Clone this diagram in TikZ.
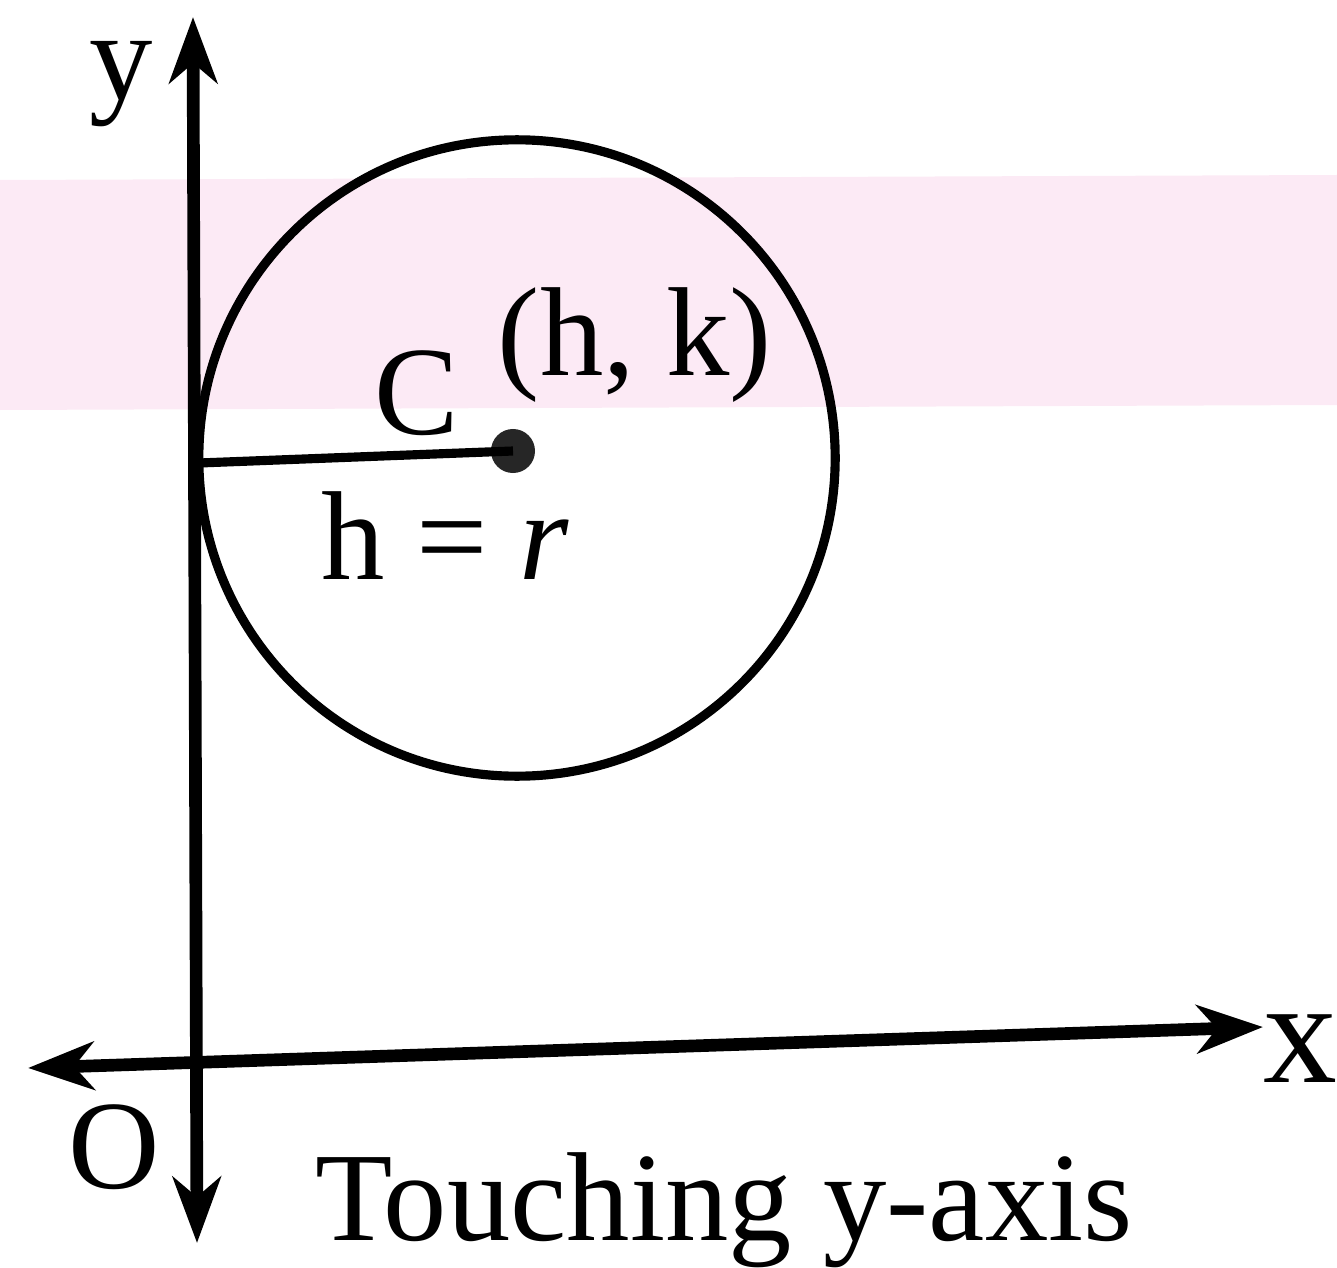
\documentclass[tikz,border=0pt]{standalone}
\usepackage{fontspec}
\setmainfont{Liberation Serif}
\usetikzlibrary{arrows.meta}
\definecolor{bandpink}{RGB}{252,234,245}
\tikzset{
  axisline/.style={line width=3.6pt, -{Stealth[length=6.6mm, width=4.8mm, inset=2mm]}},
  axislinetwo/.style={line width=3.6pt, {Stealth[length=6.6mm, width=4.8mm, inset=2mm]}-{Stealth[length=6.6mm, width=4.8mm, inset=2mm]}},
  ring/.style={draw, circle, line width=2.6pt, inner sep=0pt, minimum size=6.36cm},
  centredot/.style={circle, fill=black!85, inner sep=0pt, minimum size=4.4mm},
  lbl/.style={inner sep=0pt, font=\fontsize{36}{40}\selectfont},
}
\begin{document}
\begin{tikzpicture}[x=0.01cm, y=-0.01cm]
\useasboundingbox (0,0) rectangle (1337,1267);
% faint pink highlighter band of the scan
\fill[bandpink] (0,180) -- (1337,175) -- (1337,405) -- (0,410) -- cycle;
% axes
\coordinate (ytop) at (193,17);
\coordinate (ybot) at (197,1243);
\coordinate (xleft) at (28,1068);
\coordinate (xright) at (1263,1027);
\draw[axislinetwo] (ybot) -- (ytop);
\draw[axislinetwo] (xleft) -- (xright);
% circle
\node[ring] (circ) at (517,458) {};
\node[centredot] (cen) at (513,451) {};
\coordinate (touch) at (199,463);
\draw[line width=2.6pt] (touch) -- (cen.center);
% labels
\node[lbl, anchor=base] (ylab) at (121,100) {y};
\node[lbl, anchor=base, font=\fontsize{42}{46}\selectfont] (xlab) at (1300,1082) {x};
\node[lbl, anchor=base] (olab) at (114,1188) {O};
\node[lbl, anchor=base] (clab) at (417,434) {C};
\node[lbl, anchor=base] (hk) at (635,376) {(h, k)};
\node[lbl, anchor=base west] (hr) at (321,579) {h = \textit{r}};
\node[lbl, anchor=base] (cap) at (724,1240) {Touching y-axis};
\end{tikzpicture}
\end{document}
